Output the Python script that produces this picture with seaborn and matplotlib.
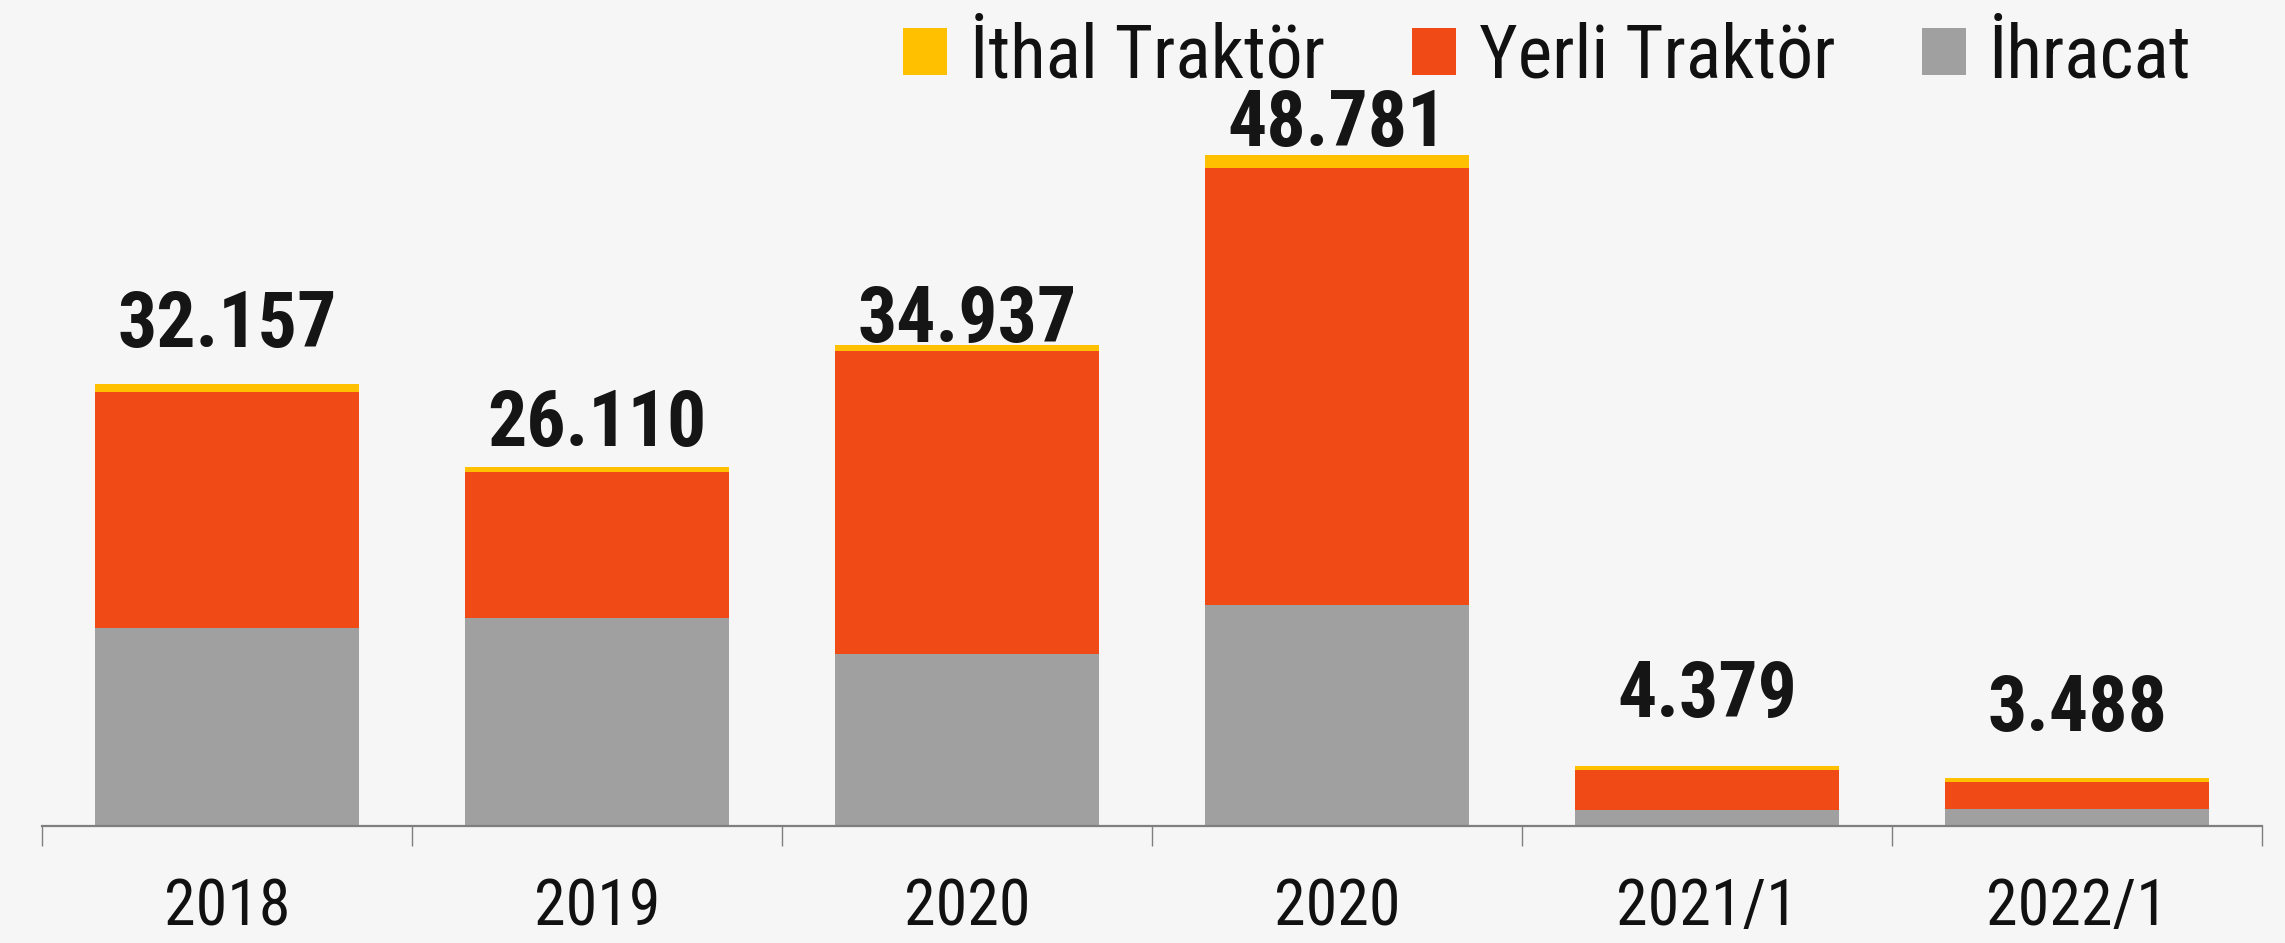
import matplotlib
matplotlib.use("Agg")
import matplotlib.pyplot as plt
import seaborn as sns
import pandas as pd
import numpy as np
from matplotlib.patches import Patch

# ---- data ----
categories = ["2018", "2019", "2020", "2020 ", "2021/1", "2022/1"]
tick_labels = ["2018", "2019", "2020", "2020", "2021/1", "2022/1"]
ihracat = [14367, 15120, 12500, 16070, 1160, 1240]
yerli = [17150, 10630, 22047, 31791, 2899, 1958]
ithal = [640, 360, 390, 920, 320, 290]
totals = [32157, 26110, 34937, 48781, 4379, 3488]
total_labels = ["32.157", "26.110", "34.937", "48.781", "4.379", "3.488"]
series_names = ["İthal Traktör", "Yerli Traktör", "İhracat"]

# ---- style ----
C_ITHAL = "#FFC000"
C_YERLI = "#F04B16"
C_IHR = "#A0A0A0"
BG = "#F6F6F6"
label_gap_px = [37, 21, 3, 9, 49, 47]
FONTS = ["Roboto Condensed", "Archivo Narrow", "PT Sans Narrow",
         "Fira Sans Condensed", "Liberation Sans", "DejaVu Sans"]

sns.set_theme(style="white")
plt.rcParams["font.family"] = FONTS

W, H, DPI = 2285, 943, 100
fig = plt.figure(figsize=(W / DPI, H / DPI), dpi=DPI, facecolor=BG)
ax_left, ax_right = 42 / W, 2262 / W
ax_bottom = (H - 826) / H
ax_top = (H - 100) / H
ax = fig.add_axes([ax_left, ax_bottom, ax_right - ax_left, ax_top - ax_bottom])
ax.set_facecolor(BG)

df = pd.DataFrame({
    "cat": categories,
    "ihr": ihracat,
    "yerli": yerli,
    "ithal": ithal,
})
df["lvl2"] = df["ihr"] + df["yerli"]
df["lvl3"] = df["lvl2"] + df["ithal"]

bw = 0.716
sns.barplot(data=df, x="cat", y="lvl3", color=C_ITHAL, width=bw, ax=ax,
            saturation=1, edgecolor="none", linewidth=0)
sns.barplot(data=df, x="cat", y="lvl2", color=C_YERLI, width=bw, ax=ax,
            saturation=1, edgecolor="none", linewidth=0)
sns.barplot(data=df, x="cat", y="ihr", color=C_IHR, width=bw, ax=ax,
            saturation=1, edgecolor="none", linewidth=0)

ax.set_xlim(-0.5, len(categories) - 0.5)
ax.set_ylim(0, 726 * 72.7)
ax.set_xlabel("")
ax.set_ylabel("")
ax.set_yticks([])

for s in ["top", "right", "left"]:
    ax.spines[s].set_visible(False)
ax.spines["bottom"].set_color("#7F7F7F")
ax.spines["bottom"].set_linewidth(1.6)

ax.set_xticks(range(len(categories)))
ax.set_xticklabels(tick_labels, fontsize=46, color="#111111")
ax.tick_params(axis="x", which="major", length=0, pad=36)
ax.set_xticks(np.arange(-0.5, len(categories), 1.0), minor=True)
ax.tick_params(axis="x", which="minor", length=14.4, width=1.0, color="#7F7F7F",
               direction="out")
ax.tick_params(axis="x", which="minor", bottom=True)

for i, (t, lab) in enumerate(zip(totals, total_labels)):
    ax.annotate(lab, xy=(i, t), xytext=(0, label_gap_px[i] * 72 / DPI),
                textcoords="offset points", ha="center", va="baseline",
                fontsize=56, fontweight="bold", color="#151515")

handles = [Patch(facecolor=C_ITHAL, edgecolor="none"),
           Patch(facecolor=C_YERLI, edgecolor="none"),
           Patch(facecolor=C_IHR, edgecolor="none")]
leg = fig.legend(handles, series_names, loc="center left",
                 bbox_to_anchor=(903 / W, (H - 57) / H), ncol=3, frameon=False,
                 fontsize=53, handlelength=0.6, handleheight=0.6,
                 handletextpad=0.31, columnspacing=1.18, borderpad=0,
                 borderaxespad=0)
for t in leg.get_texts():
    t.set_color("#111111")

fig.savefig("out.png", dpi=DPI, facecolor=BG)
